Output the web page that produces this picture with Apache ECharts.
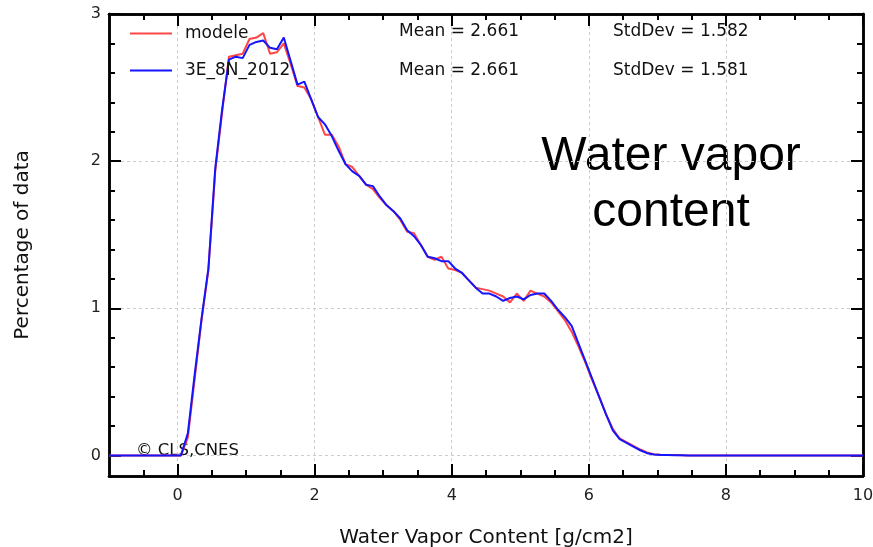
<!DOCTYPE html>
<html>
<head>
<meta charset="utf-8">
<script src="https://cdn.jsdelivr.net/npm/echarts@6/dist/echarts.min.js"></script>
<style>html,body{margin:0;padding:0;background:#fff}#c{width:873px;height:547px}</style>
</head>
<body>
<div id="c"></div>
<script>
// Bin centres (g/cm2)
const xValues = [-1, 0.05, 0.15, 0.25, 0.35, 0.45, 0.55, 0.65, 0.75, 0.85, 0.95,
  1.05, 1.15, 1.25, 1.35, 1.45, 1.55, 1.65, 1.75, 1.85, 1.95,
  2.05, 2.15, 2.25, 2.35, 2.45, 2.55, 2.65, 2.75, 2.85, 2.95,
  3.05, 3.15, 3.25, 3.35, 3.45, 3.55, 3.65, 3.75, 3.85, 3.95,
  4.05, 4.15, 4.25, 4.35, 4.45, 4.55, 4.65, 4.75, 4.85, 4.95,
  5.05, 5.15, 5.25, 5.35, 5.45, 5.55, 5.65, 5.75, 5.85, 5.95,
  6.05, 6.15, 6.25, 6.35, 6.45, 6.55, 6.65, 6.75, 6.85, 6.95,
  7.05, 7.15, 7.25, 7.35, 7.45, 8, 9, 10];

const modele = [0, 0, 0.12, 0.52, 0.92, 1.26, 1.93, 2.33, 2.71, 2.72, 2.73,
  2.83, 2.84, 2.87, 2.73, 2.74, 2.80, 2.66, 2.51, 2.50, 2.42,
  2.30, 2.18, 2.18, 2.10, 1.98, 1.96, 1.90, 1.84, 1.81, 1.75,
  1.70, 1.66, 1.60, 1.52, 1.51, 1.43, 1.35, 1.33, 1.35, 1.27,
  1.26, 1.24, 1.19, 1.14, 1.13, 1.12, 1.10, 1.08, 1.04, 1.10,
  1.05, 1.12, 1.10, 1.08, 1.04, 0.98, 0.92, 0.84, 0.74, 0.63,
  0.51, 0.40, 0.28, 0.18, 0.115, 0.09, 0.065, 0.04, 0.02, 0.008,
  0.004, 0.003, 0.002, 0.001, 0, 0, 0, 0];

const obs2012 = [0, 0, 0.15, 0.55, 0.93, 1.27, 1.95, 2.35, 2.69, 2.71, 2.70,
  2.79, 2.81, 2.82, 2.77, 2.76, 2.84, 2.68, 2.52, 2.54, 2.42,
  2.30, 2.25, 2.17, 2.07, 1.98, 1.93, 1.90, 1.84, 1.83, 1.76,
  1.70, 1.66, 1.61, 1.53, 1.49, 1.43, 1.35, 1.34, 1.32, 1.32,
  1.27, 1.24, 1.19, 1.14, 1.10, 1.10, 1.08, 1.05, 1.07, 1.08,
  1.06, 1.09, 1.10, 1.10, 1.05, 0.99, 0.94, 0.88, 0.76, 0.64,
  0.52, 0.40, 0.28, 0.17, 0.11, 0.085, 0.06, 0.035, 0.015, 0.006,
  0.003, 0.002, 0.001, 0.001, 0, 0, 0, 0];

const seriesNames = ['modele', '3E_8N_2012'];
const stats = [['Mean = 2.661', 'StdDev = 1.582'], ['Mean = 2.661', 'StdDev = 1.581']];

const xMajor = [0, 2, 4, 6, 8, 10];
const xMinor = [-0.5, 0.5, 1, 1.5, 2.5, 3, 3.5, 4.5, 5, 5.5, 6.5, 7, 7.5, 8.5, 9, 9.5];
const yMajor = [0, 1, 2, 3];
const yMinor = [0.2, 0.4, 0.6, 0.8, 1.2, 1.4, 1.6, 1.8, 2.2, 2.4, 2.6, 2.8];

const FONT = 'DejaVu Sans';
const chart = echarts.init(document.getElementById('c'), null, {renderer: 'canvas'});

function axisBase(extra) {
  return Object.assign({
    type: 'value',
    axisLine: {show: true, onZero: false, lineStyle: {color: '#000', width: 2.5}},
    splitLine: {show: false},
    axisLabel: {show: false},
    axisPointer: {show: false}
  }, extra);
}

const xCommon = {min: -1, max: 10};
const yCommon = {min: -0.14, max: 3};

const xAxes = [
  axisBase(Object.assign({}, xCommon, {
    position: 'bottom',
    name: 'Water Vapor Content [g/cm2]', nameLocation: 'middle', nameGap: 52,
    nameTextStyle: {fontFamily: FONT, fontSize: 20, color: '#111'},
    axisTick: {show: true, inside: true, length: 12, customValues: xMajor, lineStyle: {color: '#000', width: 2}},
    axisLabel: {show: true, customValues: xMajor, fontFamily: FONT, fontSize: 16, color: '#222', margin: 12},
    splitLine: {show: true, lineStyle: {color: '#cccccc', type: [3, 3], width: 1}}
  })),
  axisBase(Object.assign({}, xCommon, {
    position: 'bottom',
    axisTick: {show: true, inside: true, length: 6, customValues: xMinor, lineStyle: {color: '#000', width: 2}}
  })),
  axisBase(Object.assign({}, xCommon, {
    position: 'top',
    axisTick: {show: true, inside: true, length: 12, customValues: xMajor, lineStyle: {color: '#000', width: 2}}
  })),
  axisBase(Object.assign({}, xCommon, {
    position: 'top',
    axisTick: {show: true, inside: true, length: 6, customValues: xMinor, lineStyle: {color: '#000', width: 2}}
  }))
];

const yAxes = [
  axisBase(Object.assign({}, yCommon, {
    position: 'left',
    name: 'Percentage of data', nameLocation: 'middle', nameGap: 76,
    nameTextStyle: {fontFamily: FONT, fontSize: 20, color: '#111'},
    axisTick: {show: true, inside: true, length: 12, customValues: yMajor, lineStyle: {color: '#000', width: 2}},
    axisLabel: {show: true, customValues: yMajor, fontFamily: FONT, fontSize: 16, color: '#222', margin: 8},
    splitLine: {show: true, lineStyle: {color: '#cccccc', type: [3, 3], width: 1}}
  })),
  axisBase(Object.assign({}, yCommon, {
    position: 'left',
    axisTick: {show: true, inside: true, length: 6, customValues: yMinor, lineStyle: {color: '#000', width: 2}}
  })),
  axisBase(Object.assign({}, yCommon, {
    position: 'right',
    axisTick: {show: true, inside: true, length: 12, customValues: yMajor, lineStyle: {color: '#000', width: 2}}
  })),
  axisBase(Object.assign({}, yCommon, {
    position: 'right',
    axisTick: {show: true, inside: true, length: 6, customValues: yMinor, lineStyle: {color: '#000', width: 2}}
  }))
];

const zip = (ys) => xValues.map((x, i) => [x, ys[i]]);

const textStyle17 = {fontFamily: FONT, fontSize: 17, fill: '#111'};

chart.setOption({
  animation: false,
  backgroundColor: '#fff',
  grid: {left: 109, right: 10, top: 14, bottom: 71, containLabel: false, outerBoundsMode: 'none'},
  xAxis: xAxes,
  yAxis: yAxes,
  legend: {
    orient: 'vertical', left: 125, top: 20, itemGap: 20,
    itemWidth: 42, itemHeight: 2, icon: 'rect',
    textStyle: {fontFamily: FONT, fontSize: 17, color: '#111', padding: [0, 0, 0, 8]},
    data: seriesNames
  },
  series: [
    {name: seriesNames[0], type: 'line', xAxisIndex: 0, yAxisIndex: 0, data: zip(modele), symbol: 'none',
     lineStyle: {color: '#ff4646', width: 2}, itemStyle: {color: '#ff4646'}, z: 2},
    {name: seriesNames[1], type: 'line', xAxisIndex: 0, yAxisIndex: 0, data: zip(obs2012), symbol: 'none',
     lineStyle: {color: '#1414ff', width: 2}, itemStyle: {color: '#1414ff'}, z: 3}
  ],
  graphic: [
    {type: 'text', left: 399, top: 23, style: Object.assign({text: stats[0][0]}, textStyle17)},
    {type: 'text', left: 613, top: 23, style: Object.assign({text: stats[0][1]}, textStyle17)},
    {type: 'text', left: 399, top: 62, style: Object.assign({text: stats[1][0]}, textStyle17)},
    {type: 'text', left: 613, top: 62, style: Object.assign({text: stats[1][1]}, textStyle17)},
    {type: 'text', left: 136, top: 442, style: {text: '© CLS,CNES', fontFamily: FONT, fontSize: 16.5, fill: '#111'}},
    {type: 'text', x: 671, y: 185, style: {text: 'Water vapor\ncontent', fontFamily: 'Liberation Sans', fontSize: 48,
      lineHeight: 56, fill: '#000', align: 'center', verticalAlign: 'middle'}}
  ]
});
</script>
</body>
</html>
